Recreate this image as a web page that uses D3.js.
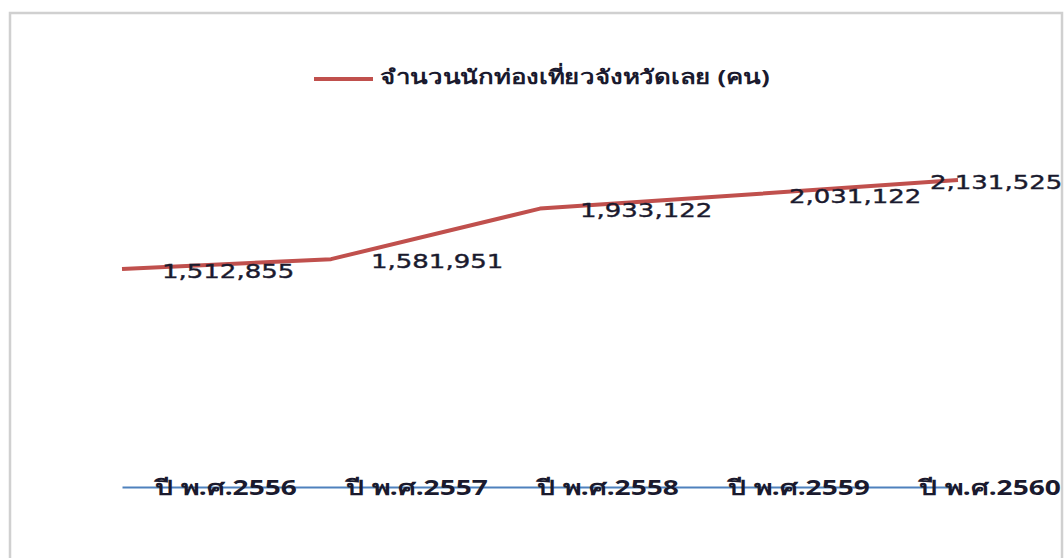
<!DOCTYPE html>
<html>
<head>
<meta charset="utf-8">
<script src="https://cdn.jsdelivr.net/npm/d3@7"></script>
<style>
  body { margin: 0; background: #fff; }
  svg { display: block; }
</style>
</head>
<body>
<svg id="chart" width="1064" height="558"></svg>
<script>
// data
const years = ["ปี พ.ศ.2556", "ปี พ.ศ.2557", "ปี พ.ศ.2558", "ปี พ.ศ.2559", "ปี พ.ศ.2560"];
const visitors = [1512855, 1581951, 1933122, 2031122, 2131525];
const seriesName = "จำนวนนักท่องเที่ยวจังหวัดเลย (คน)";

const svg = d3.select("#chart");

// chart frame
svg.append("rect")
    .attr("x", 10).attr("y", 13)
    .attr("width", 1052).attr("height", 560)
    .attr("fill", "#fff")
    .attr("stroke", "#d0d0d0")
    .attr("stroke-width", 2.5);

let x = d3.scalePoint().domain(years).range([122, 958]);
let xLabel = d3.scalePoint().domain(years).range([226, 990]);
let y = d3.scaleLinear().domain([0, 2131525]).range([487, 180]);

// axis line (category axis at zero)
let axis = d3.axisBottom(x).tickSize(0).tickFormat("");
let axisG = svg.append("g").attr("transform", "translate(0," + y(0) + ")").call(axis);
axisG.select(".domain").attr("stroke", "#4f81bd").attr("stroke-width", 2);

// category labels (stretched wide like the original export)
svg.append("g").selectAll("text")
    .data(years)
    .enter().append("text")
    .attr("transform", d => "translate(" + xLabel(d) + "," + (y(0) + 2) + ") scale(1.34,1)")
    .attr("text-anchor", "middle")
    .attr("dominant-baseline", "middle")
    .attr("font-family", "Tahoma, 'Noto Sans', sans-serif")
    .attr("font-weight", "bold")
    .attr("font-size", 21)
    .attr("fill", "#1a1a2e")
    .text(d => d);

// the line
let line = d3.line()
    .x((d, i) => x(years[i]))
    .y(d => y(d));

svg.append("path")
    .datum(visitors)
    .attr("d", line)
    .attr("fill", "none")
    .attr("stroke", "#c0504d")
    .attr("stroke-width", 4)
    .attr("stroke-linejoin", "round");

// data labels
let fmt = d3.format(",");
svg.append("g").selectAll("text")
    .data(visitors)
    .enter().append("text")
    .attr("transform", function(d, i) {
        let lx = i === visitors.length - 1 ? x(years[i]) - 28 : x(years[i]) + 40;
        return "translate(" + lx + "," + (y(d) + 3) + ") scale(1.3,1)";
    })
    .attr("dominant-baseline", "middle")
    .attr("font-family", "'DejaVu Sans', Verdana, sans-serif")
    .attr("font-size", 20)
    .attr("stroke", "#1a1a2e")
    .attr("stroke-width", 0.4)
    .attr("fill", "#1a1a2e")
    .text(d => fmt(d));

// legend
let legend = svg.append("g").attr("transform", "translate(314,79)");
legend.append("line")
    .attr("x1", 0).attr("x2", 59)
    .attr("stroke", "#c0504d")
    .attr("stroke-width", 4);
legend.append("text")
    .attr("transform", "translate(66,0) scale(1.29,1)")
    .attr("dominant-baseline", "middle")
    .attr("font-family", "Tahoma, 'Noto Sans', sans-serif")
    .attr("font-weight", "bold")
    .attr("font-size", 20)
    .attr("fill", "#1a1a2e")
    .text(seriesName);
</script>
</body>
</html>
